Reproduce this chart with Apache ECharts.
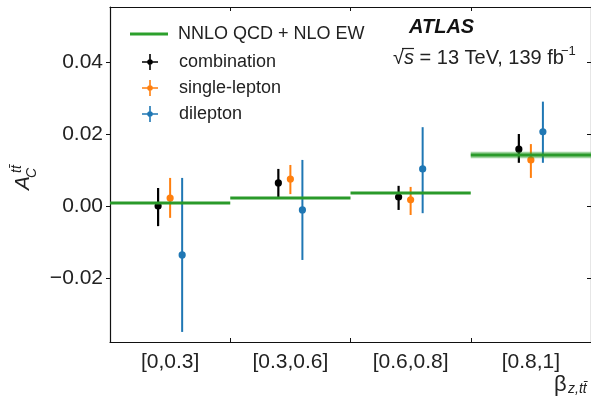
<!DOCTYPE html>
<html>
<head>
<meta charset="utf-8">
<script src="https://cdn.jsdelivr.net/npm/echarts@6/dist/echarts.min.js"></script>
<style>
html,body{margin:0;padding:0;background:#fff}
#chart{width:591px;height:401px}
</style>
</head>
<body>
<div id="chart"></div>
<script>
const bins = ['[0,0.3]', '[0.3,0.6]', '[0.6,0.8]', '[0.8,1]'];
const yTicks = [-0.02, 0, 0.02, 0.04];

// NNLO QCD + NLO EW prediction (band only visible in last bin)
const theoryVal = [0.0008, 0.0022, 0.0036, 0.0142];
const theoryLo  = [0.0008, 0.0022, 0.0036, 0.0133];
const theoryHi  = [0.0008, 0.0022, 0.0036, 0.0151];

const combVal = [0.0000, 0.0064, 0.0025, 0.0158];
const combLo  = [-0.0056, 0.0025, -0.0011, 0.0120];
const combHi  = [0.0050, 0.0103, 0.0056, 0.0200];

const slVal = [0.0022, 0.0075, 0.0017, 0.0128];
const slLo  = [-0.0033, 0.0033, -0.0025, 0.0078];
const slHi  = [0.0078, 0.0114, 0.0053, 0.0172];

const dlVal = [-0.0136, -0.0011, 0.0103, 0.0206];
const dlLo  = [-0.0350, -0.0150, -0.0020, 0.0120];
const dlHi  = [0.0078, 0.0128, 0.0219, 0.0290];

const FONT = 'Liberation Sans';
const TXT = '#222';
const plusIcon = 'path://M0,7.2h16v1.6h-16z M7.2,0h1.6v16h-1.6z M8,5.2a2.8,2.8 0 1,1 -0.01,0z';

const chart = echarts.init(document.getElementById('chart'));

function errBar(offset, color, lw, r) {
  return function (params, api) {
    const i = api.value(0);
    const bw = api.size([1, 0])[0];
    const p = api.coord([i, api.value(1)]);
    const lo = api.coord([i, api.value(2)]);
    const hi = api.coord([i, api.value(3)]);
    const x = p[0] + bw * offset;
    return {
      type: 'group',
      children: [
        { type: 'line', shape: { x1: x, y1: lo[1], x2: x, y2: hi[1] }, style: { stroke: color, lineWidth: lw } },
        { type: 'circle', shape: { cx: x, cy: p[1], r: r }, style: { fill: color } }
      ]
    };
  };
}

function theoryItem(params, api) {
  const i = api.value(0);
  const bw = api.size([1, 0])[0];
  const c = api.coord([i, api.value(1)]);
  const lo = api.coord([i, api.value(2)]);
  const hi = api.coord([i, api.value(3)]);
  const x0 = c[0] - bw / 2;
  const kids = [];
  if (lo[1] - hi[1] > 1) {
    kids.push({ type: 'rect', shape: { x: x0, y: hi[1], width: bw, height: lo[1] - hi[1] },
      style: { fill: 'rgba(44,160,44,0.45)' } });
  }
  kids.push({ type: 'line', shape: { x1: x0, y1: c[1], x2: x0 + bw, y2: c[1] },
    style: { stroke: '#2a9a2a', lineWidth: 3 } });
  return { type: 'group', children: kids };
}

const mk = (v, lo, hi) => bins.map((b, i) => [i, v[i], lo[i], hi[i]]);

const frame = { show: true, onZero: false, lineStyle: { color: '#111', width: 1.2 } };

const option = {
  backgroundColor: '#fff',
  animation: false,
  textStyle: { fontFamily: FONT },
  grid: { left: 110, top: 7, width: 483, height: 335 },
  legend: [
    {
      data: [{ name: 'NNLO QCD + NLO EW', icon: 'rect' }],
      left: 125, top: 20, itemWidth: 38, itemHeight: 3,
      textStyle: { fontFamily: FONT, fontSize: 18, color: TXT, padding: [0, 0, 0, 5] },
      selectedMode: false
    },
    {
      data: [
        { name: 'combination', icon: plusIcon },
        { name: 'single-lepton', icon: plusIcon },
        { name: 'dilepton', icon: plusIcon }
      ],
      orient: 'vertical', left: 137, top: 48, itemWidth: 16, itemHeight: 16, itemGap: 8,
      textStyle: { fontFamily: FONT, fontSize: 18, color: TXT, padding: [0, 0, 0, 16] },
      selectedMode: false
    }
  ],
  xAxis: [
    {
      type: 'category', data: bins, position: 'bottom',
      axisLine: frame,
      axisTick: { show: true, inside: true, length: 4, lineStyle: { color: '#111' } },
      axisLabel: { fontFamily: FONT, fontSize: 21, color: TXT, margin: 10 },
      splitLine: { show: false }
    },
    {
      type: 'category', data: bins, position: 'top',
      axisLine: frame,
      axisTick: { show: true, inside: true, length: 4, lineStyle: { color: '#111' } },
      axisLabel: { show: false },
      splitLine: { show: false }
    }
  ],
  yAxis: [
    {
      type: 'value', min: -0.0378, max: 0.0553, position: 'left',
      axisLine: frame,
      axisTick: { show: true, length: 4, customValues: yTicks, lineStyle: { color: '#111' } },
      axisLabel: {
        customValues: yTicks, fontFamily: FONT, fontSize: 21, color: TXT, margin: 7,
        formatter: v => (v < 0 ? '\u2212' : '') + Math.abs(v).toFixed(2)
      },
      splitLine: { show: false }
    },
    {
      type: 'value', min: -0.0378, max: 0.0553, position: 'right',
      axisLine: frame,
      axisTick: { show: true, inside: true, length: 4, customValues: yTicks, lineStyle: { color: '#111' } },
      axisLabel: { show: false },
      splitLine: { show: false }
    }
  ],
  series: [
    { name: 'combination', type: 'custom', itemStyle: { color: '#000' }, z: 3,
      renderItem: errBar(-0.1, '#000', 2.2, 3.6), data: mk(combVal, combLo, combHi) },
    { name: 'single-lepton', type: 'custom', itemStyle: { color: '#ff7f0e' }, z: 3,
      renderItem: errBar(0, '#ff7f0e', 2, 3.6), data: mk(slVal, slLo, slHi) },
    { name: 'dilepton', type: 'custom', itemStyle: { color: '#1f77b4' }, z: 3,
      renderItem: errBar(0.1, '#1f77b4', 2, 3.6), data: mk(dlVal, dlLo, dlHi) },
    { name: 'NNLO QCD + NLO EW', type: 'custom', itemStyle: { color: '#2ca02c' }, z: 4,
      renderItem: theoryItem, data: mk(theoryVal, theoryLo, theoryHi) }
  ],
  graphic: [
    { type: 'text', left: 409, top: 17, style: { text: 'ATLAS', fontFamily: FONT, fontSize: 20, fontWeight: 'bold', fontStyle: 'italic', fill: '#111' } },
    { type: 'text', left: 393, top: 48, style: {
        text: '{r|\u221a}{s|s}{n| = 13 TeV, 139 fb}',
        rich: {
          r: { fontFamily: FONT, fontSize: 20, fill: TXT },
          s: { fontFamily: FONT, fontSize: 20, fontStyle: 'italic', fill: TXT },
          n: { fontFamily: FONT, fontSize: 20, fill: TXT }
        } } },
    { type: 'line', shape: { x1: 402, y1: 48.5, x2: 414, y2: 48.5 }, style: { stroke: TXT, lineWidth: 1.2 } },
    { type: 'text', left: 561, top: 45, style: { text: '\u22121', fontFamily: FONT, fontSize: 13, fill: TXT } },
    // y-axis title A_C^{tt̄}
    { type: 'group', x: 23, y: 177, rotation: Math.PI / 2, children: [
        { type: 'text', x: -13, y: 0, style: { text: 'A', fontFamily: FONT, fontSize: 21, fontStyle: 'italic', fill: TXT, verticalAlign: 'middle' } },
        { type: 'text', x: -1, y: 9, style: { text: 'C', fontFamily: FONT, fontSize: 14, fontStyle: 'italic', fill: TXT, verticalAlign: 'middle' } },
        { type: 'text', x: 4, y: -6, style: { text: 'tt\u0304', fontFamily: FONT, fontSize: 14, fontStyle: 'italic', fill: TXT, verticalAlign: 'middle' } }
      ] },
    // x-axis title beta_{z,tt̄}
    { type: 'text', left: 554, top: 374, style: { text: '\u03b2', fontFamily: FONT, fontSize: 22, fill: TXT } },
    { type: 'text', left: 568, top: 382, style: { text: 'z,tt\u0304', fontFamily: FONT, fontSize: 14, fontStyle: 'italic', fill: TXT } }
  ]
};

chart.setOption(option);
</script>
</body>
</html>
